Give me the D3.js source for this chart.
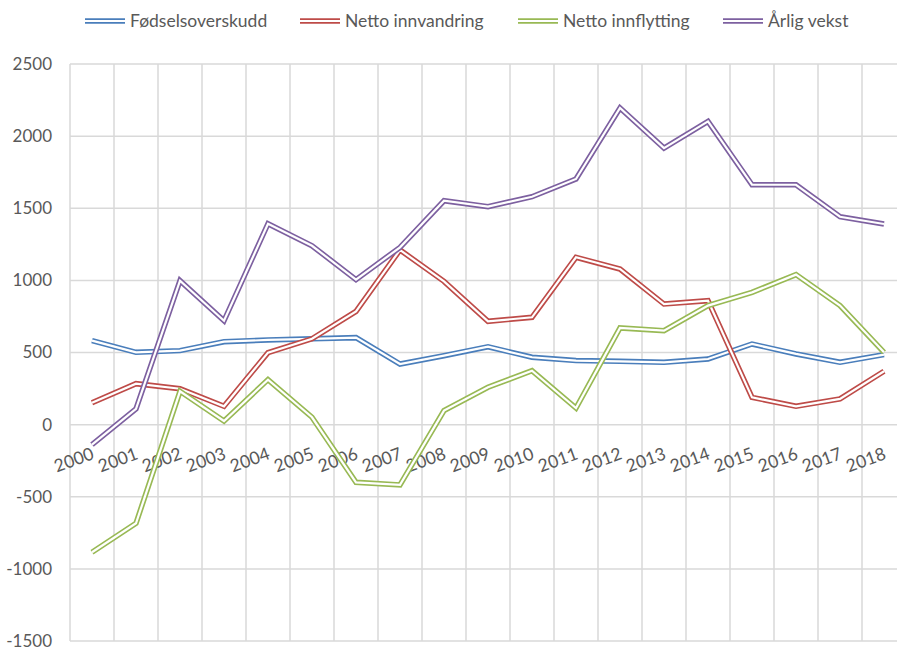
<!DOCTYPE html>
<html>
<head>
<meta charset="utf-8">
<script src="https://cdn.jsdelivr.net/npm/d3@7"></script>
<style>
  body { margin: 0; background: #fff; }
  text { font-family: Lato, "Open Sans", sans-serif; fill: #595959; }
</style>
</head>
<body>
<div id="chart"></div>
<script>
// data
var years = ["2000","2001","2002","2003","2004","2005","2006","2007","2008","2009",
             "2010","2011","2012","2013","2014","2015","2016","2017","2018"];
var fodselsoverskudd = [582, 501, 513, 575, 587, 595, 603, 420, 478, 540, 467, 444, 439, 432, 455, 559, 490, 432, 485];
var nettoInnvandring = [152, 284, 249, 127, 499, 595, 785, 1211, 993, 716, 744, 1160, 1079, 836, 859, 189, 127, 178, 370];
var nettoInnflytting = [-885, -684, 231, 25, 312, 51, -400, -418, 97, 259, 374, 115, 670, 651, 825, 917, 1040, 825, 501];
var arligVekst = [-139, 109, 998, 720, 1393, 1240, 1005, 1229, 1552, 1511, 1580, 1703, 2195, 1917, 2102, 1663, 1663, 1441, 1391];
var yTicks = [-1500, -1000, -500, 0, 500, 1000, 1500, 2000, 2500];

var series = [
  {name: "Fødselsoverskudd", values: fodselsoverskudd, color: "#4a7ebb"},
  {name: "Netto innvandring", values: nettoInnvandring, color: "#be4b48"},
  {name: "Netto innflytting", values: nettoInnflytting, color: "#98b954"},
  {name: "Årlig vekst", values: arligVekst, color: "#7d60a0"}
];

var W = 897, H = 648;
var plotLeft = 70, plotRight = 906, plotTop = 64, plotBottom = 641;

var svg = d3.select("#chart")
  .append("svg")
    .attr("width", W)
    .attr("height", H);

var x = d3.scaleBand()
  .domain(years)
  .range([plotLeft, plotRight]);

var y = d3.scaleLinear()
  .domain([-1500, 2500])
  .range([plotBottom, plotTop]);

// gridlines
svg.append("g")
  .selectAll("line")
  .data(yTicks)
  .enter()
  .append("line")
    .attr("x1", plotLeft)
    .attr("x2", plotRight)
    .attr("y1", function(d) { return y(d); })
    .attr("y2", function(d) { return y(d); })
    .attr("stroke", "#d9d9d9")
    .attr("stroke-width", 1.5);

svg.append("g")
  .selectAll("line")
  .data(years.concat(["end"]))
  .enter()
  .append("line")
    .attr("x1", function(d, i) { return plotLeft + i * x.bandwidth(); })
    .attr("x2", function(d, i) { return plotLeft + i * x.bandwidth(); })
    .attr("y1", plotTop)
    .attr("y2", plotBottom)
    .attr("stroke", "#d9d9d9")
    .attr("stroke-width", 1.5);

// y axis labels
var yAxis = svg.append("g")
  .attr("transform", "translate(" + (plotLeft - 18) + ",0)")
  .call(d3.axisLeft(y).tickValues(yTicks).tickSize(0).tickPadding(0)
    .tickFormat(function(d) { return String(d); }));
yAxis.select(".domain").remove();
yAxis.selectAll("text")
  .style("font-size", "17px")
  .style("font-family", "Lato, 'Open Sans', sans-serif")
  .attr("fill", "#595959");

// x labels at zero line
svg.append("g")
  .selectAll("text")
  .data(years)
  .enter()
  .append("text")
    .attr("transform", function(d) {
      return "translate(" + (x(d) + x.bandwidth() / 2 + 3) + "," + (y(0) + 34) + ")rotate(-20)";
    })
    .attr("text-anchor", "end")
    .style("font-size", "17.5px")
    .text(function(d) { return d; });

// lines, drawn double like the original
var line = d3.line()
  .x(function(d, i) { return x(years[i]) + x.bandwidth() / 2; })
  .y(function(d) { return y(d); });

series.forEach(function(s) {
  svg.append("path")
    .attr("d", line(s.values))
    .attr("fill", "none")
    .attr("stroke", s.color)
    .attr("stroke-width", 5.5)
    .attr("stroke-linejoin", "miter");
  svg.append("path")
    .attr("d", line(s.values))
    .attr("fill", "none")
    .attr("stroke", "#fff")
    .attr("stroke-width", 2.2)
    .attr("stroke-linejoin", "miter");
});

// legend
var legendX = [85, 300, 518, 723];
var legend = svg.append("g")
  .selectAll("g")
  .data(series)
  .enter()
  .append("g")
    .attr("transform", function(d, i) { return "translate(" + legendX[i] + ",21)"; });

legend.append("line")
  .attr("x1", 0).attr("x2", 40)
  .attr("stroke", function(d) { return d.color; })
  .attr("stroke-width", 5.5);
legend.append("line")
  .attr("x1", 0).attr("x2", 40)
  .attr("stroke", "#fff")
  .attr("stroke-width", 2.2);
legend.append("text")
  .attr("x", 45)
  .attr("y", 6)
  .style("font-size", "17.5px")
  .text(function(d) { return d.name; });
</script>
</body>
</html>
